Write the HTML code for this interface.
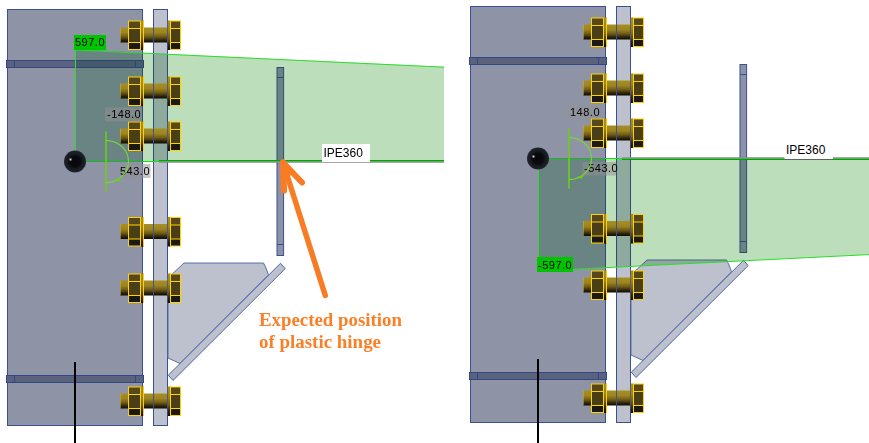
<!DOCTYPE html>
<html><head><meta charset="utf-8">
<style>
html,body{margin:0;padding:0;background:#fff;width:869px;height:443px;overflow:hidden}
svg{display:block}
.lbl{font-family:"Liberation Sans",sans-serif;font-size:11px;fill:#000;letter-spacing:0.5px}
.mul{mix-blend-mode:multiply}
</style></head>
<body>
<svg width="869" height="443" viewBox="0 0 869 443">
<defs>
  <linearGradient id="shank" x1="0" y1="0" x2="0" y2="1">
    <stop offset="0" stop-color="#a88f22"/>
    <stop offset="0.35" stop-color="#9c8420"/>
    <stop offset="0.62" stop-color="#6e5a16"/>
    <stop offset="0.85" stop-color="#2a220a"/>
    <stop offset="1" stop-color="#0e0c06"/>
  </linearGradient>
  <radialGradient id="ball" cx="0.5" cy="0.5" r="0.5">
    <stop offset="0" stop-color="#060608"/>
    <stop offset="0.5" stop-color="#0a0b0e"/>
    <stop offset="0.7" stop-color="#181a22"/>
    <stop offset="0.92" stop-color="#1e2029"/>
    <stop offset="1" stop-color="#262833"/>
  </radialGradient>
  <radialGradient id="hl" cx="0.5" cy="0.5" r="0.5">
    <stop offset="0" stop-color="#e0e0e0" stop-opacity="0.95"/>
    <stop offset="0.5" stop-color="#a0a0a8" stop-opacity="0.6"/>
    <stop offset="1" stop-color="#20222c" stop-opacity="0"/>
  </radialGradient>
  <g id="bolt">
    <rect x="120" y="7" width="50" height="15" fill="url(#shank)"/>
    <line x1="120.5" y1="7" x2="120.5" y2="22" stroke="#c8b040" stroke-width="1" opacity="0.6"/>
    <line x1="153.5" y1="7" x2="153.5" y2="22" stroke="#3d5296" stroke-width="1"/>
    <line x1="167.5" y1="7" x2="167.5" y2="22" stroke="#3d5296" stroke-width="1"/>
    <rect x="140.5" y="0" width="3.5" height="29.5" fill="url(#shank)"/>
    <rect x="167.8" y="0" width="2.7" height="29.5" fill="url(#shank)"/>
    <rect x="128.5" y="0.5" width="12" height="8" fill="#56481a"/>
    <rect x="128.5" y="8" width="12" height="14" fill="#4a3e16"/>
    <rect x="128.5" y="22" width="12" height="7" fill="#1a1914"/>
    <rect x="128.5" y="0.5" width="12" height="28.5" fill="none" stroke="#ffd200" stroke-width="1"/>
    <line x1="128.5" y1="8" x2="140.5" y2="8" stroke="#ffd200" stroke-width="1"/>
    <line x1="128.5" y1="22" x2="140.5" y2="22" stroke="#ffd200" stroke-width="1"/>
    <line x1="143.5" y1="0" x2="143.5" y2="29.5" stroke="#ffd200" stroke-width="1"/>
    <rect x="170.5" y="0.5" width="10" height="8" fill="#56481a"/>
    <rect x="170.5" y="8" width="10" height="14" fill="#4a3e16"/>
    <rect x="170.5" y="22" width="10" height="7" fill="#1a1914"/>
    <rect x="170.5" y="0.5" width="10" height="28.5" fill="none" stroke="#ffd200" stroke-width="1"/>
    <line x1="170.5" y1="8" x2="180.5" y2="8" stroke="#ffd200" stroke-width="1"/>
    <line x1="170.5" y1="22" x2="180.5" y2="22" stroke="#ffd200" stroke-width="1"/>
  </g>
  <!-- static structure of one figure -->
  <g id="base">
    <!-- column plate -->
    <rect x="7.5" y="9.5" width="135" height="416" fill="#8e94a6" stroke="#3a4f95" stroke-width="1"/>
    <rect x="6.5" y="60.5" width="137" height="7" fill="#5a627c" stroke="#32488c" stroke-width="1"/>
    <line x1="14.5" y1="60.5" x2="14.5" y2="67.5" stroke="#32488c"/>
    <line x1="135.5" y1="60.5" x2="135.5" y2="67.5" stroke="#32488c"/>
    <rect x="6.5" y="375.5" width="137" height="7" fill="#5a627c" stroke="#32488c" stroke-width="1"/>
    <line x1="14.5" y1="375.5" x2="14.5" y2="382.5" stroke="#32488c"/>
    <line x1="135.5" y1="375.5" x2="135.5" y2="382.5" stroke="#32488c"/>
    <!-- end plate -->
    <rect x="153.5" y="9.5" width="14" height="416" fill="#bdc1ce" stroke="#3a4f95" stroke-width="1"/>
    <!-- vertical stiffener -->
    <rect x="277" y="67.5" width="6.6" height="188" fill="#8d93a7" stroke="#3a4f95" stroke-width="1"/>
    <line x1="277" y1="77.5" x2="283.5" y2="77.5" stroke="#3a4f95"/>
    <line x1="277" y1="244.5" x2="283.5" y2="244.5" stroke="#3a4f95"/>
    <!-- haunch web -->
    <polygon points="168,278 184,263 263.5,263 266,268 268.5,274.8 180,363.5 168,358" fill="#bdc1cd" stroke="#5a6ea6" stroke-width="1"/>
    <!-- haunch flange -->
    <polygon points="280.5,263.3 285.2,268.6 173,380.5 168.3,375.2" fill="#bdc1cd" stroke="#4f64a2" stroke-width="1"/>
    <!-- black line -->
    <line x1="75" y1="362" x2="75" y2="446" stroke="#000" stroke-width="2"/>
  </g>
  <g id="bolts">
    <use href="#bolt" y="20.5"/>
    <use href="#bolt" y="76.5"/>
    <use href="#bolt" y="121.5"/>
    <use href="#bolt" y="217"/>
    <use href="#bolt" y="273.5"/>
    <use href="#bolt" y="386.5"/>
  </g>
</defs>

<!-- ============ LEFT FIGURE ============ -->
<use href="#base"/>
<polygon class="mul" points="75,49.6 444,66.8 444,161 75,161" fill="rgb(209,243,183)"/>
<polygon points="75,49.6 444,66.8 444,161 75,161" fill="rgb(45,73,220)" fill-opacity="0.12"/>
<line x1="159" y1="160.5" x2="444" y2="160.5" stroke="#5c625e" stroke-width="1"/>
<line x1="159" y1="162.5" x2="444" y2="162.5" stroke="#8e8696" stroke-width="1" stroke-opacity="0.75"/>
<polyline points="75.5,161.5 75.5,50 444,67.2" fill="none" stroke="#2ade2a" stroke-width="1"/>
<line x1="75" y1="161.5" x2="143" y2="161.5" stroke="#14bb22" stroke-width="1"/>
<line x1="143" y1="161.5" x2="444" y2="161.5" stroke="#00f000" stroke-width="1"/>
<use href="#bolts"/>
<circle cx="75" cy="161.5" r="11" fill="url(#ball)"/>
<circle cx="70.5" cy="159.5" r="2.2" fill="url(#hl)"/>
<rect x="74" y="35" width="32" height="15" fill="#00c400"/>
<text class="lbl" x="75" y="46">597.0</text>
<rect x="105" y="107.5" width="37" height="14" fill="rgb(145,145,145)" fill-opacity="0.52"/>
<text class="lbl" x="107" y="118">-148.0</text>
<rect x="119" y="164" width="31.5" height="14" fill="rgb(145,145,145)" fill-opacity="0.52"/>
<text class="lbl" x="120" y="175.3">543.0</text>
<!-- angle -->
<g id="angL">
<line x1="106" y1="131.5" x2="106" y2="191.5" stroke="#6ad014" stroke-width="1.6"/>
<path d="M106,140.5 A22.5,21 0 0 1 106,182.5" fill="none" stroke="#7ada30" stroke-width="1.1"/>
<path d="M114.5,179.5 L121,178 L118.5,182 Z" fill="#6ad014"/>
</g>
<rect x="322" y="144" width="48" height="18" fill="#fff"/>
<text class="lbl" x="323.5" y="157.4" style="font-size:12px;letter-spacing:0">IPE360</text>
<!-- arrow -->
<g stroke="#f87c24" stroke-linecap="round" stroke-linejoin="round" fill="none">
  <line x1="283" y1="162.5" x2="325.3" y2="295.5" stroke-width="5.5"/>
  <line x1="283" y1="162.5" x2="284" y2="190.5" stroke-width="6.2"/>
  <line x1="283" y1="162.5" x2="302" y2="182.5" stroke-width="6"/>
  <polygon points="282,164 288,166 290,174 283,178" fill="#f87c24" stroke-width="3"/>
</g>
<text x="259" y="326.4" textLength="143" lengthAdjust="spacingAndGlyphs" style="font-family:'Liberation Serif',serif;font-weight:bold;font-size:18px;fill:#fb7f26">Expected position</text>
<text x="259" y="348.3" textLength="122" lengthAdjust="spacingAndGlyphs" style="font-family:'Liberation Serif',serif;font-weight:bold;font-size:18px;fill:#fb7f26">of plastic hinge</text>

<!-- ============ RIGHT FIGURE ============ -->
<g transform="translate(463,-3)">
  <use href="#base"/>
</g>
<polygon class="mul" points="538,158 869,158 869,254.6 538,271" fill="rgb(209,243,183)"/>
<polygon points="538,158 869,158 869,254.6 538,271" fill="rgb(45,73,220)" fill-opacity="0.12"/>
<line x1="622" y1="159.5" x2="869" y2="159.5" stroke="#5c625e" stroke-width="1"/>
<line x1="622" y1="157.5" x2="869" y2="157.5" stroke="#8e8696" stroke-width="1" stroke-opacity="0.75"/>
<polyline points="538.5,158 538.5,271 869,254.6" fill="none" stroke="#2ade2a" stroke-width="1"/>
<line x1="538" y1="158.5" x2="605" y2="158.5" stroke="#14bb22" stroke-width="1"/>
<line x1="605" y1="158.5" x2="869" y2="158.5" stroke="#00f000" stroke-width="1"/>
<g transform="translate(463,-3)">
  <use href="#bolts"/>
</g>
<circle cx="538" cy="158.5" r="11" fill="url(#ball)"/>
<circle cx="533.5" cy="156.5" r="2.2" fill="url(#hl)"/>
<rect x="537" y="257" width="36" height="15" fill="#00c400"/>
<text class="lbl" x="538" y="268.5">-597.0</text>
<rect x="568" y="105" width="32.5" height="13.5" fill="rgb(145,145,145)" fill-opacity="0.52"/>
<text class="lbl" x="570" y="115.5">148.0</text>
<rect x="582.5" y="162" width="33.5" height="13.5" fill="rgb(145,145,145)" fill-opacity="0.52"/>
<text class="lbl" x="584" y="171.8">-543.0</text>
<use href="#angL" x="463" y="-3"/>
<rect x="784.5" y="142" width="48.5" height="17" fill="#fff"/>
<text class="lbl" x="786" y="153.8" style="font-size:12px;letter-spacing:0">IPE360</text>
</svg>
</body></html>
